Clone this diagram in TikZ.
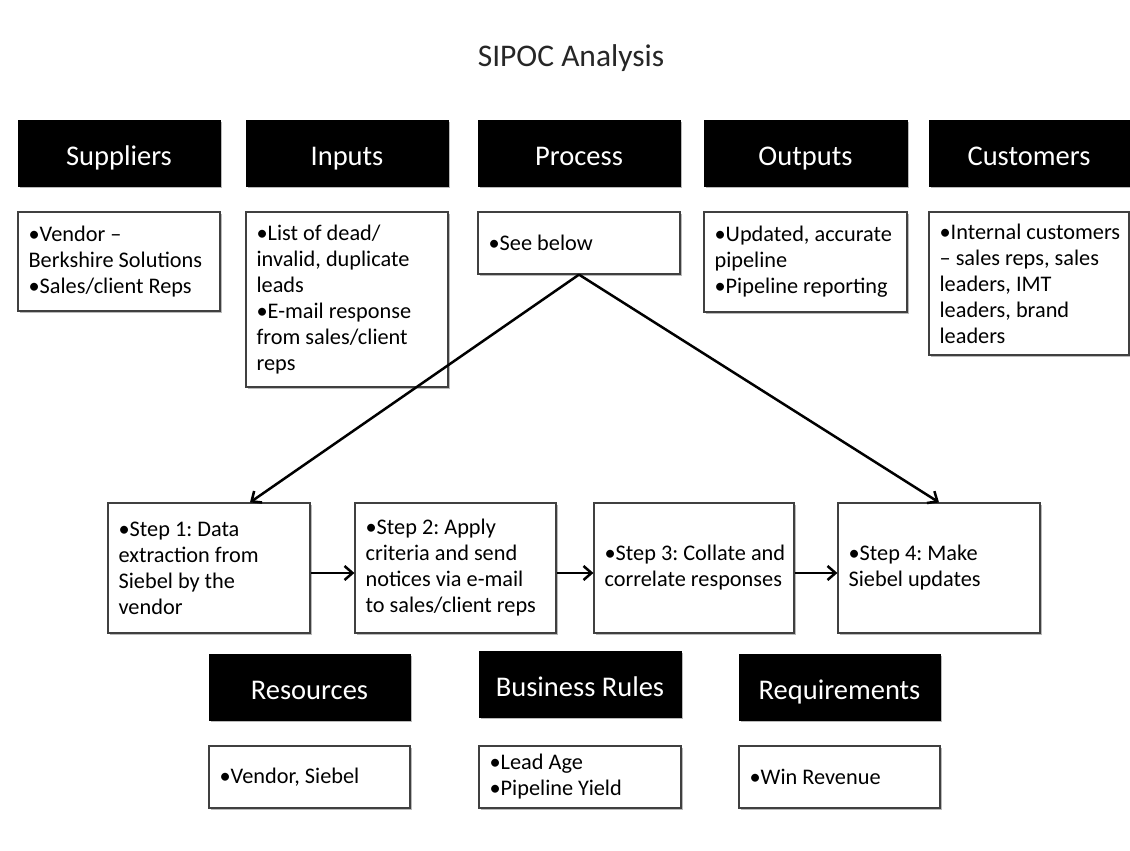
\documentclass[tikz,border=0pt]{standalone}
\usepackage{fontspec}
\setmainfont{Carlito}
\usetikzlibrary{arrows.meta,shadows}

\tikzset{
  boxshadow/.style={drop shadow={shadow xshift=1.5pt, shadow yshift=-1.5pt, fill=black!45, opacity=0.6}},
  hdr/.style={fill=black, draw=black, text=white, boxshadow,
    font=\fontsize{28.5}{32}\selectfont, text height=24pt, text depth=0pt,
    minimum width=202pt, minimum height=66pt, inner sep=0pt},
  cbox/.style={draw=black!75, line width=1.2pt, fill=white, boxshadow,
    minimum width=202pt, inner sep=0pt},
  body/.style={align=left, inner sep=0pt, anchor=west, text=black,
    font=\fontsize{22.3}{26}\selectfont\frenchspacing},
  flow/.style={-{Straight Barb[length=8pt,width=14pt]}, line width=2.5pt, black}
}

\begin{document}
\begin{tikzpicture}[x=1pt, y=-1pt]
\useasboundingbox (0,0) rectangle (1130,851);
\fill[white] (0,0) rectangle (1130,851);

% title
\node[font=\fontsize{31.5}{36}\selectfont, text=black!85] (title) at (571,58) {SIPOC Analysis};

% SIPOC headers
\node[hdr] (supH) at (119,153) {Suppliers};
\node[hdr] (inpH) at (347,153) {Inputs};
\node[hdr] (proH) at (579,153) {Process};
\node[hdr, minimum width=203pt] (outH) at (805.5,153) {Outputs};
\node[hdr, minimum width=200pt] (cusH) at (1029,153) {Customers};

% SIPOC contents
\node[cbox, minimum height=99pt] (supC) at (119,261.5) {};
\node[body] (supT) at ([xshift=11pt]supC.west) {•Vendor –\\Berkshire Solutions\\•Sales/client Reps};

\node[cbox, minimum height=175pt] (inpC) at (347,299.5) {};
\node[body] (inpT) at ([xshift=11pt]inpC.west) {•List of dead/\\invalid, duplicate\\leads\\•E-mail response\\from sales/client\\reps};

\node[cbox, minimum height=62pt] (proC) at (579,243) {};
\node[body] (proT) at ([xshift=11pt]proC.west) {•See below};

\node[cbox, minimum width=203pt, minimum height=100pt] (outC) at (805.5,262) {};
\node[body] (outT) at ([xshift=11pt]outC.west) {•Updated, accurate\\pipeline\\•Pipeline reporting};

\node[cbox, minimum width=200pt, minimum height=143pt] (cusC) at (1029,283.5) {};
\node[body] (cusT) at ([xshift=11pt]cusC.west) {•Internal customers\\– sales reps, sales\\leaders, IMT\\leaders, brand\\leaders};

% process steps
\node[cbox, minimum height=130pt] (s1) at (209,568) {};
\node[body] (s1T) at ([xshift=11pt]s1.west) {•Step 1: Data\\extraction from\\Siebel by the\\vendor};
\node[cbox, minimum width=201pt, minimum height=130pt] (s2) at (455.5,568) {};
\node[body] (s2T) at ([xshift=11pt]s2.west) {•Step 2: Apply\\criteria and send\\notices via e-mail\\to sales/client reps};
\node[cbox, minimum width=200pt, minimum height=130pt] (s3) at (694,568) {};
\node[body] (s3T) at ([xshift=11pt]s3.west) {•Step 3: Collate and\\correlate responses};
\node[cbox, minimum height=130pt] (s4) at (939,568) {};
\node[body] (s4T) at ([xshift=11pt]s4.west) {•Step 4: Make\\Siebel updates};

% lower headers
\node[hdr, minimum width=201pt] (resH) at (309.5,687) {Resources};
\node[hdr] (rulH) at (580,684) {Business Rules};
\node[hdr, minimum width=201pt] (reqH) at (839.5,687) {Requirements};

% lower contents
\node[cbox, minimum width=201pt, minimum height=62pt] (resC) at (309.5,777) {};
\node[body] (resT) at ([xshift=11pt]resC.west) {•Vendor, Siebel};
\node[cbox, minimum height=62pt] (rulC) at (580,777) {};
\node[body] (rulT) at ([xshift=11pt]rulC.west) {•Lead Age\\•Pipeline Yield};
\node[cbox, minimum width=201pt, minimum height=62pt] (reqC) at (839.5,777) {};
\node[body] (reqT) at ([xshift=11pt]reqC.west) {•Win Revenue};

% connectors
\draw[flow] (proC.south) -- ([xshift=41pt]s1.north);
\draw[flow] (proC.south) -- (s4.north);
\draw[flow] ([yshift=-5pt]s1.east) -- ([yshift=-5pt]s2.west);
\draw[flow] ([yshift=-5pt]s2.east) -- ([yshift=-5pt]s3.west);
\draw[flow] ([yshift=-5pt]s3.east) -- ([yshift=-5pt]s4.west);
\end{tikzpicture}
\end{document}
